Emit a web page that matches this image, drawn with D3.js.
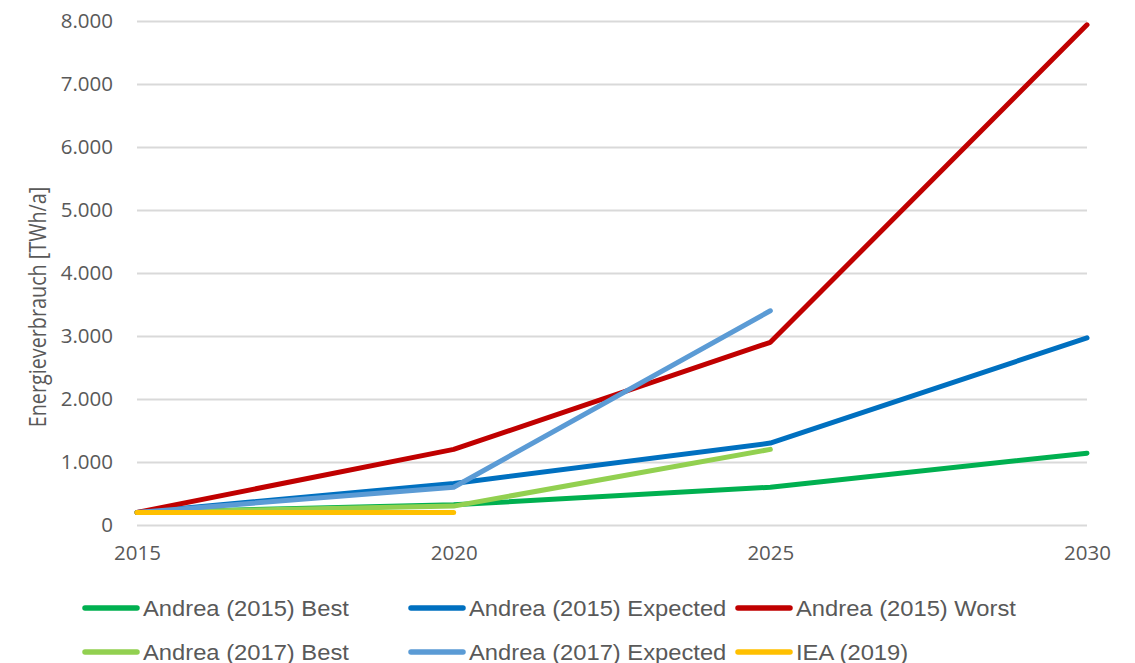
<!DOCTYPE html>
<html>
<head>
<meta charset="utf-8">
<script src="https://cdn.jsdelivr.net/npm/d3@7"></script>
<style>
  html, body { margin: 0; padding: 0; background: #fff; }
  svg { display: block; }
</style>
</head>
<body>
<script>
// Energy consumption scenarios (TWh/a)
const years = [2015, 2020, 2025, 2030];
const seriesNames = [
  "Andrea (2015) Best",
  "Andrea (2015) Expected",
  "Andrea (2015) Worst",
  "Andrea (2017) Best",
  "Andrea (2017) Expected",
  "IEA (2019)"
];
const seriesColors = ["#00b050", "#0070c0", "#c00000", "#92d050", "#5b9bd5", "#ffc000"];
const andrea2015Best = [200, 320, 600, 1140];
const andrea2015Expected = [200, 660, 1300, 2970];
const andrea2015Worst = [200, 1200, 2900, 7940];
const andrea2017Best = [200, 300, 1200];
const andrea2017Expected = [200, 600, 3400];
const iea2019 = [200, 200];
const yTicks = [0, 1000, 2000, 3000, 4000, 5000, 6000, 7000, 8000];
const xTicks = [2015, 2020, 2025, 2030];

const seriesValues = [andrea2015Best, andrea2015Expected, andrea2015Worst,
                      andrea2017Best, andrea2017Expected, iea2019];

const W = 1135, H = 663;
const svg = d3.select("body").append("svg").attr("width", W).attr("height", H);

const x = d3.scaleLinear().domain([2015, 2030]).range([137, 1087]);
const y = d3.scaleLinear().domain([0, 8000]).range([525, 21]);

const de = d3.formatLocale({ decimal: ",", thousands: ".", grouping: [3], currency: ["", " €"] });
const fmt = de.format(",d");

const textColor = "#595959";
const axisFont = "'Open Sans', sans-serif";

// horizontal gridlines with value labels
const yAxis = d3.axisLeft(y).tickValues(yTicks).tickFormat(fmt)
  .tickSize(-(x.range()[1] - x.range()[0])).tickPadding(24);
const gy = svg.append("g").attr("transform", `translate(${x.range()[0]},0)`).call(yAxis);
gy.select(".domain").remove();
gy.selectAll(".tick line").attr("stroke", "#d9d9d9").attr("stroke-width", 2);
gy.selectAll(".tick text").attr("fill", textColor)
  .style("font-family", axisFont).style("font-size", "20.5px");

// year labels
const xAxis = d3.axisBottom(x).tickValues(xTicks).tickFormat(d3.format("d")).tickSize(0).tickPadding(20);
const gx = svg.append("g").attr("transform", `translate(0,${y(0)})`).call(xAxis);
gx.select(".domain").remove();
gx.selectAll(".tick text").attr("fill", textColor)
  .style("font-family", axisFont).style("font-size", "20.5px");

// axis title
svg.append("text")
  .attr("transform", "translate(37,307) rotate(-90) scale(0.86,1)")
  .attr("text-anchor", "middle").attr("dominant-baseline", "central")
  .attr("fill", textColor)
  .style("font-family", axisFont).style("font-size", "23px")
  .text("Energieverbrauch [TWh/a]");

// series lines
const line = d3.line().x((d, i) => x(years[i])).y(d => y(d));
svg.append("g").selectAll("path")
  .data(seriesValues)
  .join("path")
  .attr("d", d => line(d))
  .attr("fill", "none")
  .attr("stroke", (d, i) => seriesColors[i])
  .attr("stroke-width", 5)
  .attr("stroke-linejoin", "round")
  .attr("stroke-linecap", "round");

// legend: 3 columns x 2 rows
const colX = [83, 409, 736];
const rowY = [608, 652];
const lg = svg.append("g").selectAll("g")
  .data(seriesNames)
  .join("g")
  .attr("transform", (d, i) => `translate(${colX[i % 3]},${rowY[Math.floor(i / 3)]})`);
lg.append("line")
  .attr("x1", 2).attr("x2", 54).attr("y1", 0).attr("y2", 0)
  .attr("stroke", (d, i) => seriesColors[i])
  .attr("stroke-width", 5.5).attr("stroke-linecap", "round");
lg.append("text")
  .attr("transform", "translate(60,0) scale(1.08,1)")
  .attr("dominant-baseline", "central")
  .attr("fill", textColor)
  .style("font-family", "'Liberation Sans', Arial, sans-serif").style("font-size", "22px")
  .text(d => d);
</script>
</body>
</html>
